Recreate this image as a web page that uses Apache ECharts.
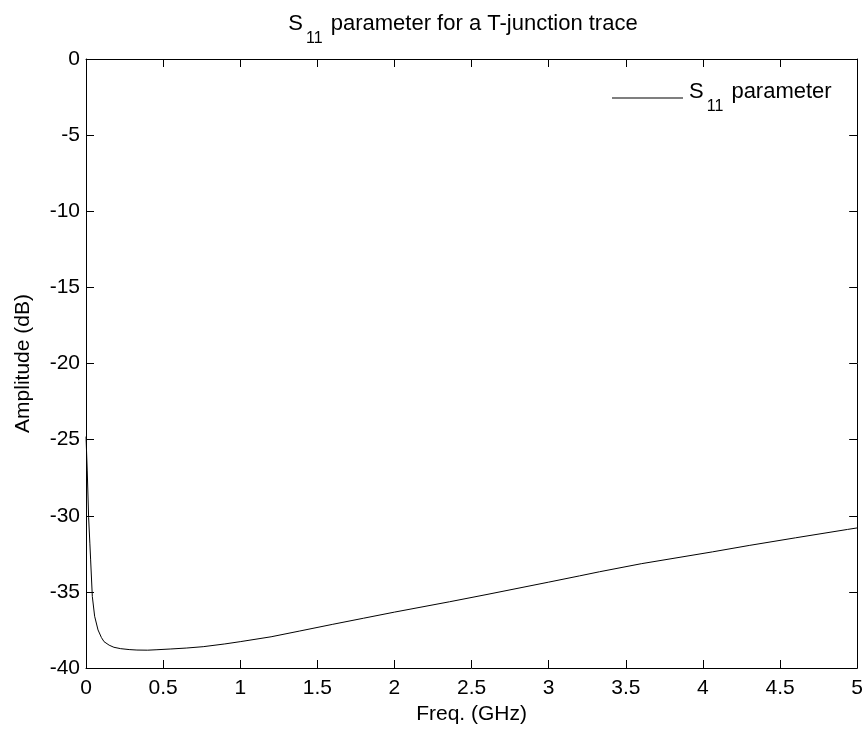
<!DOCTYPE html>
<html>
<head>
<meta charset="utf-8">
<script src="https://cdn.jsdelivr.net/npm/echarts@6/dist/echarts.min.js"></script>
<style>
  html, body { margin: 0; padding: 0; background: #fff; }
  #chart { width: 866px; height: 733px; }
</style>
</head>
<body>
<div id="chart"></div>
<script>
// Frequency sweep (GHz) and reflection magnitude |S11| (dB)
const freqGHz = [0, 0.008, 0.017, 0.025, 0.030, 0.041, 0.056, 0.078, 0.100, 0.117, 0.150, 0.181,
  0.225, 0.280, 0.330, 0.400, 0.460, 0.550, 0.650, 0.760, 0.900, 1.000, 1.200, 1.386, 1.600,
  1.800, 2.000, 2.357, 2.600, 3.000, 3.200, 3.329, 3.600, 4.063, 4.300, 4.600, 4.937, 5.000];
const s11dB = [-24.8, -27.0, -30.1, -31.8, -32.9, -35.3, -36.6, -37.5, -38.0, -38.27, -38.5, -38.64,
  -38.73, -38.79, -38.82, -38.83, -38.80, -38.75, -38.69, -38.60, -38.42, -38.27, -37.95, -37.57, -37.13,
  -36.73, -36.33, -35.65, -35.17, -34.36, -33.95, -33.68, -33.15, -32.37, -31.95, -31.45, -30.90, -30.80];

const xTicks = [0, 0.5, 1, 1.5, 2, 2.5, 3, 3.5, 4, 4.5, 5];
const yTicks = [0, -5, -10, -15, -20, -25, -30, -35, -40];

const FONT = 'Liberation Sans, Arial, sans-serif';
const FS = 21;

const points = freqGHz.map((f, i) => [f, s11dB[i]]);

const chart = echarts.init(document.getElementById('chart'), null, { renderer: 'canvas' });

const tickFmt = v => String(Math.round(v * 10) / 10);

const axisCommon = {
  type: 'value',
  axisLine: { show: true, onZero: false, lineStyle: { color: '#000', width: 1 } },
  axisTick: { show: true, inside: true, length: 8, lineStyle: { color: '#000', width: 1 } },
  splitLine: { show: false }
};

// S with a lowered "11" subscript, shared by the title and the legend entry
const richS11 = (size) => ({
  s: { fontFamily: FONT, fontSize: size, fontWeight: 'normal', color: '#000', lineHeight: 34, verticalAlign: 'top' },
  sub: { fontFamily: FONT, fontSize: 16, fontWeight: 'normal', color: '#000', lineHeight: 34, verticalAlign: 'bottom', padding: [0, 2, 0, 3] }
});

chart.setOption({
  backgroundColor: '#ffffff',
  animation: false,
  title: {
    text: '{s|S}{sub|11}{s| parameter for a T-junction trace}',
    left: 458,
    top: 8,
    textAlign: 'center',
    textStyle: { fontWeight: 'normal', rich: richS11(22) }
  },
  legend: {
    show: true,
    left: 607,
    top: 76,
    itemWidth: 71,
    itemHeight: 1,
    itemGap: 0,
    icon: 'rect',
    data: [{ name: 'S11 parameter', icon: 'rect', itemStyle: { color: '#000' } }],
    formatter: () => '{s|S}{sub|11}{s| parameter}',
    textStyle: { padding: [0, 0, 0, 1], rich: richS11(22) }
  },
  grid: { left: 86, right: 8, top: 59, bottom: 65, containLabel: false },
  xAxis: [
    Object.assign({}, axisCommon, {
      position: 'bottom', min: xTicks[0], max: xTicks[xTicks.length - 1], interval: 0.5,
      name: 'Freq. (GHz)', nameLocation: 'middle', nameGap: 31,
      nameTextStyle: { fontFamily: FONT, fontSize: FS, color: '#000' },
      axisLabel: { show: true, margin: 10, fontFamily: FONT, fontSize: FS, color: '#000', formatter: tickFmt }
    }),
    Object.assign({}, axisCommon, {
      position: 'top', min: 0, max: 5, interval: 0.5,
      axisLabel: { show: false }
    })
  ],
  yAxis: [
    Object.assign({}, axisCommon, {
      position: 'left', min: yTicks[yTicks.length - 1], max: yTicks[0], interval: 5,
      name: 'Amplitude (dB)', nameLocation: 'middle', nameGap: 52, nameRotate: 90,
      nameTextStyle: { fontFamily: FONT, fontSize: FS, color: '#000' },
      axisLabel: { show: true, margin: 6, fontFamily: FONT, fontSize: FS, color: '#000', formatter: tickFmt }
    }),
    Object.assign({}, axisCommon, {
      position: 'right', min: -40, max: 0, interval: 5,
      axisLabel: { show: false }
    })
  ],
  series: [{
    name: 'S11 parameter',
    type: 'line',
    xAxisIndex: 0,
    yAxisIndex: 0,
    data: points,
    showSymbol: false,
    symbol: 'none',
    smooth: false,
    lineStyle: { color: '#000', width: 1 },
    itemStyle: { color: '#000' }
  }]
});
</script>
</body>
</html>
